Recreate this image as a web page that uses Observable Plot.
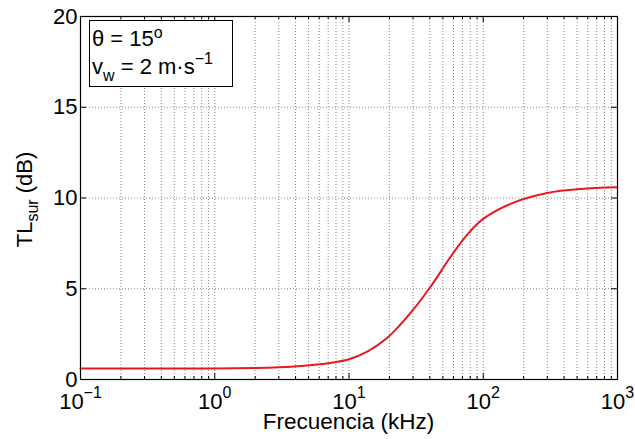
<!DOCTYPE html>
<html>
<head>
<meta charset="utf-8">
<script src="https://cdn.jsdelivr.net/npm/d3@7"></script>
<script src="https://cdn.jsdelivr.net/npm/@observablehq/plot@0.6"></script>
<style>
  html, body { margin: 0; padding: 0; background: white; }
  svg { display: block; }
</style>
</head>
<body>
<div id="chart"></div>
<script>
// Data
const frequencyKHz = [0.1, 0.3, 1, 2, 3, 4.4, 7, 10, 14, 19.3, 24, 30.5, 39.5, 45, 54, 76, 100, 170, 300, 530, 1000];
const tlSurDB      = [0.60, 0.60, 0.61, 0.64, 0.68, 0.75, 0.90, 1.12, 1.58, 2.30, 3.0, 3.90, 5.00, 5.60, 6.50, 7.98, 8.85, 9.76, 10.28, 10.50, 10.59];

const xTickValues = [0.1, 1, 10, 100, 1000];
const xTickExponents = ["\u22121", "0", "1", "2", "3"];
const yTickValues = [0, 5, 10, 15, 20];

const xLabel = "Frecuencia (kHz)";
const yLabelMain = "TL", yLabelSub = "sur", yLabelUnit = " (dB)";
const legendLine1 = {main: "\u03b8 = 15", sup: "o"};
const legendLine2 = {v: "v", sub: "w", mid: " = 2 m\u00b7s", sup: "\u22121"};

const data = frequencyKHz.map((f, i) => ({f, tl: tlSurDB[i]}));

const W = 635, H = 439;
const mL = 80, mR = 18, mT = 16, mB = 60;
const innerW = W - mL - mR, innerH = H - mT - mB;

const xDomain = [0.1, 1000];
const xAllTicks = d3.scaleLog().domain(xDomain).ticks();
const xMinorTicks = xAllTicks.filter(t => !xTickValues.some(v => Math.abs(v - t) / v < 1e-9));

const font = "'Liberation Sans', Arial, Helvetica, sans-serif";
const gridStyle = {stroke: "#8a8a8a", strokeOpacity: 1, strokeWidth: 1, strokeDasharray: "1,2"};

const chart = Plot.plot({
  width: W, height: H,
  marginLeft: mL, marginRight: mR, marginTop: mT, marginBottom: mB,
  style: {fontFamily: font, fontSize: "22px", color: "black", background: "white", overflow: "visible"},
  x: {type: "log", domain: xDomain},
  y: {domain: [0, 20]},
  marks: [
    Plot.gridX(xAllTicks, gridStyle),
    Plot.gridY(yTickValues, gridStyle),
    Plot.line(data, {x: "f", y: "tl", stroke: "#e8191f", strokeWidth: 2, curve: "catmull-rom"}),
    // inward ticks: bottom & top
    Plot.ruleX(xMinorTicks, {x: d => d, insetTop: innerH - 3, stroke: "black"}),
    Plot.ruleX(xMinorTicks, {x: d => d, insetBottom: innerH - 3, stroke: "black"}),
    Plot.ruleX(xTickValues, {x: d => d, insetTop: innerH - 6, stroke: "black"}),
    Plot.ruleX(xTickValues, {x: d => d, insetBottom: innerH - 6, stroke: "black"}),
    // inward ticks: left & right
    Plot.ruleY(yTickValues, {y: d => d, insetRight: innerW - 6, stroke: "black"}),
    Plot.ruleY(yTickValues, {y: d => d, insetLeft: innerW - 6, stroke: "black"}),
    Plot.frame({stroke: "black", strokeWidth: 1.2}),
    Plot.axisX(xTickValues, {
      label: null, tickSize: 0, tickPadding: 14, fontSize: 22,
      tickFormat: d => "10^" + xTickExponents[xTickValues.indexOf(d)]
    }),
    Plot.axisY(yTickValues, {label: null, tickSize: 0, tickPadding: 3, fontSize: 22})
  ]
});

document.getElementById("chart").appendChild(chart);

const svg = d3.select(chart);

// superscript exponents on x tick labels
svg.selectAll('g[aria-label="x-axis tick label"] text').each(function () {
  const parts = this.textContent.split("^");
  this.textContent = parts[0];
  d3.select(this).append("tspan").attr("dy", "-11").attr("font-size", "16px").text(parts[1]);
});

// x axis label
svg.append("text")
  .attr("x", mL + innerW / 2).attr("y", 429)
  .attr("text-anchor", "middle")
  .attr("font-family", font).attr("font-size", "22.5px").attr("fill", "black")
  .text(xLabel);

// y axis label with subscript
const yl = svg.append("text")
  .attr("transform", `translate(32,${mT + innerH / 2 + 2}) rotate(-90)`)
  .attr("text-anchor", "middle")
  .attr("font-family", font).attr("font-size", "22px").attr("fill", "black");
yl.append("tspan").text(yLabelMain);
yl.append("tspan").attr("dy", "6").attr("font-size", "16px").text(yLabelSub);
yl.append("tspan").attr("dy", "-6").text(yLabelUnit);

// legend box
const lg = svg.append("g").attr("text-anchor", "start");
lg.append("rect").attr("x", 89.5).attr("y", 20.5).attr("width", 143).attr("height", 66)
  .attr("fill", "white").attr("stroke", "black").attr("stroke-width", 1);
const t1 = lg.append("text").attr("x", 92).attr("y", 46).attr("text-anchor", "start")
  .attr("font-family", font).attr("font-size", "22px").attr("fill", "black");
t1.append("tspan").text(legendLine1.main);
t1.append("tspan").attr("dy", "-8").attr("font-size", "16px").text(legendLine1.sup);
const t2 = lg.append("text").attr("x", 92).attr("y", 74).attr("text-anchor", "start")
  .attr("font-family", font).attr("font-size", "22px").attr("fill", "black");
t2.append("tspan").text(legendLine2.v);
t2.append("tspan").attr("dy", "7").attr("font-size", "16px").text(legendLine2.sub);
t2.append("tspan").attr("dy", "-7").text(legendLine2.mid);
t2.append("tspan").attr("dy", "-10").attr("font-size", "16px").text(legendLine2.sup);
</script>
</body>
</html>
